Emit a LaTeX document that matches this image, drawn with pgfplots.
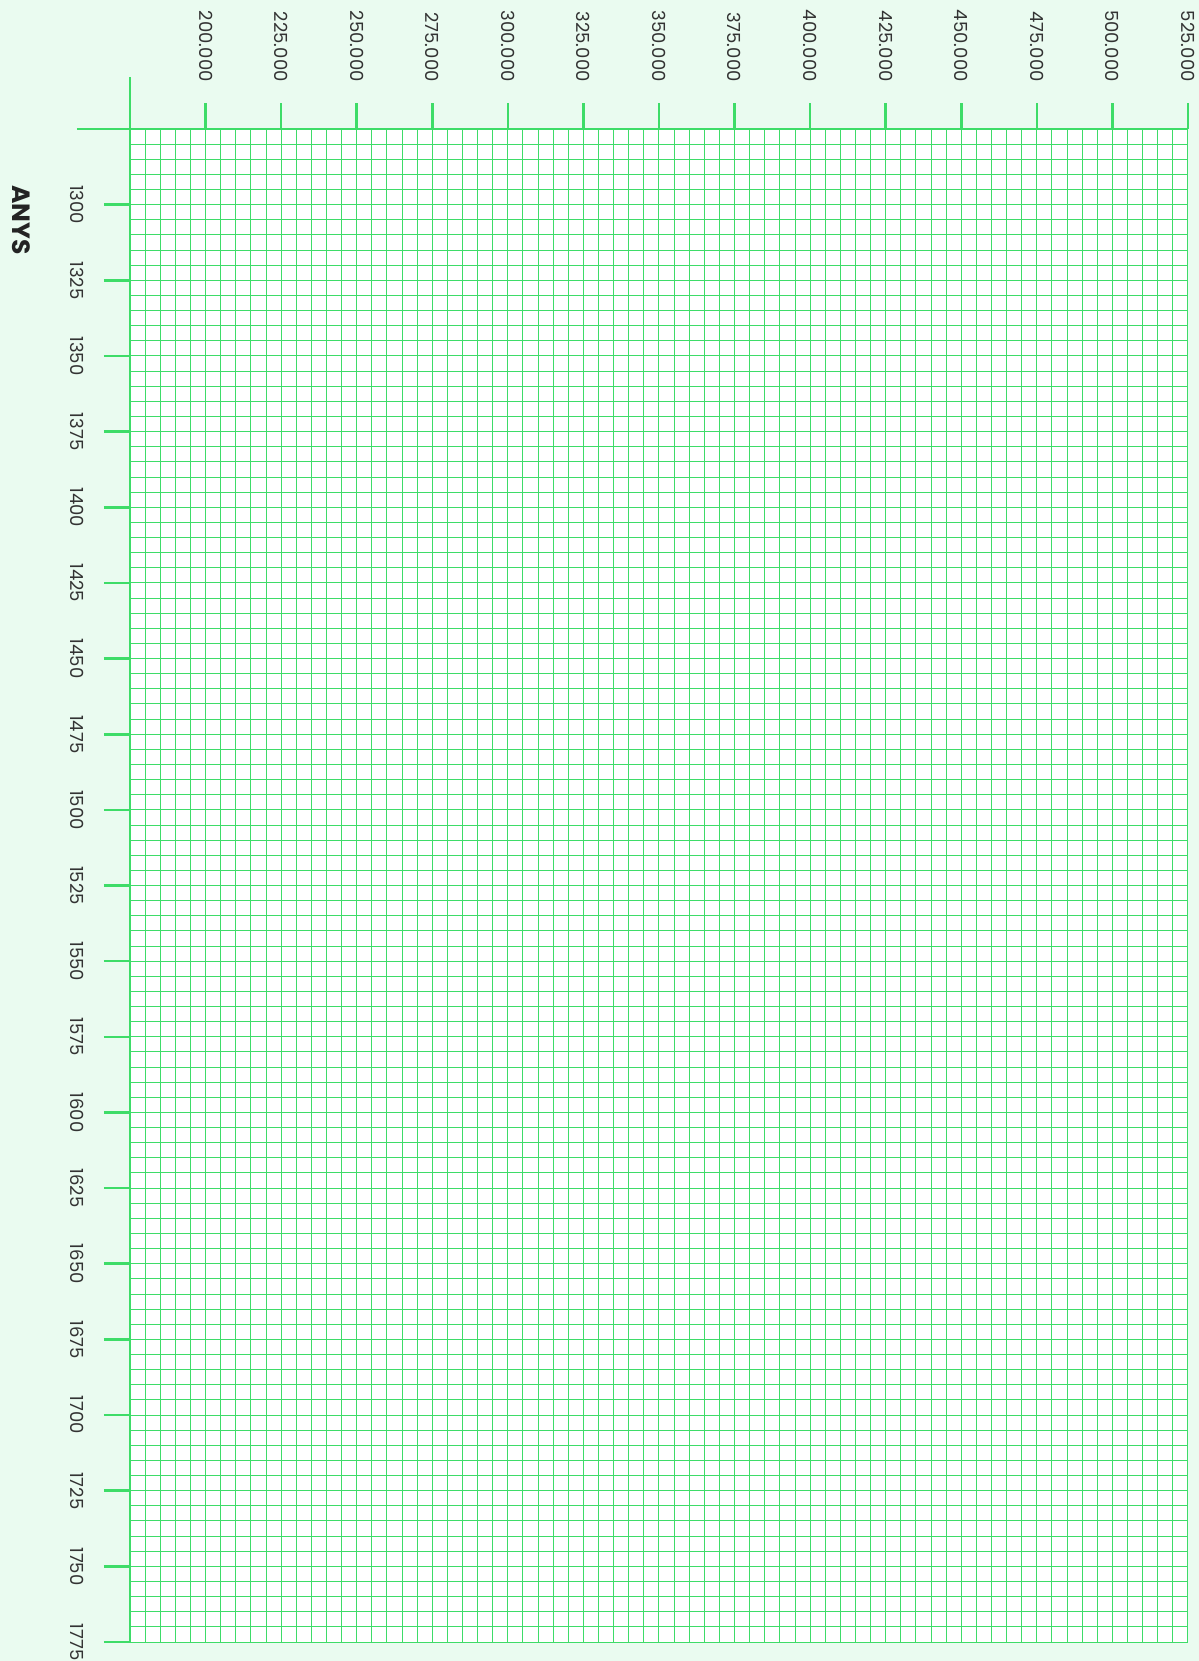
\documentclass[border=0pt]{standalone}
\usepackage{fontspec}
\setmainfont{Poppins}
\usepackage{pgfplots}
\pgfplotsset{compat=1.18}
\definecolor{gr}{HTML}{3EDC68}
\definecolor{bg}{HTML}{EAFBF0}
\definecolor{lbl}{HTML}{333333}
\begin{document}
\begin{tikzpicture}[x=1pt,y=1pt]
\fill[bg] (-65,-766) rectangle (534.5,64.5);
\begin{axis}[
  at={(0,0)}, anchor=north west,
  width=529pt, height=756.5pt, scale only axis,
  xmin=175000, xmax=525000, ymin=1275, ymax=1775, y dir=reverse,
  axis x line*=top, axis y line*=left,
  axis line style={gr, line width=1.3pt, -},
  scaled x ticks=false, scaled y ticks=false,
  xtick={175000,200000,225000,250000,275000,300000,325000,350000,375000,400000,425000,450000,475000,500000,525000},
  xticklabels={,200.000,225.000,250.000,275.000,300.000,325.000,350.000,375.000,400.000,425.000,450.000,475.000,500.000,525.000},
  ytick={1275,1300,1325,1350,1375,1400,1425,1450,1475,1500,1525,1550,1575,1600,1625,1650,1675,1700,1725,1750,1775},
  yticklabels={,1300,1325,1350,1375,1400,1425,1450,1475,1500,1525,1550,1575,1600,1625,1650,1675,1700,1725,1750,1775},
  minor x tick num=4, minor y tick num=4,
  grid=both,
  major grid style={gr, line width=0.5pt},
  minor grid style={gr, line width=0.5pt},
  tick align=outside, major tick length=13pt, minor tick length=0pt,
  major tick style={gr, line width=1.3pt},
  xticklabel shift=10.5pt, yticklabel shift=10pt,
  xticklabel style={rotate=-90, anchor=east, inner sep=0pt, font=\fontsize{9}{10}\selectfont, text=lbl},
  yticklabel style={rotate=-90, anchor=north, inner sep=0pt, font=\fontsize{9}{10}\selectfont, text=lbl},
  axis background/.style={fill=white},
]
\end{axis}
\draw[gr, line width=1.3pt] (-26.5,0) -- (0,0) -- (0,26);
\node[rotate=-90, font=\bfseries\fontsize{12.5}{14}\selectfont, text=lbl!70!black, inner sep=0pt] at (-54.5,-45.5) {ANYS};
\pgfresetboundingbox
\path[use as bounding box] (-65,-766) rectangle (534.5,64.5);
\end{tikzpicture}
\end{document}
